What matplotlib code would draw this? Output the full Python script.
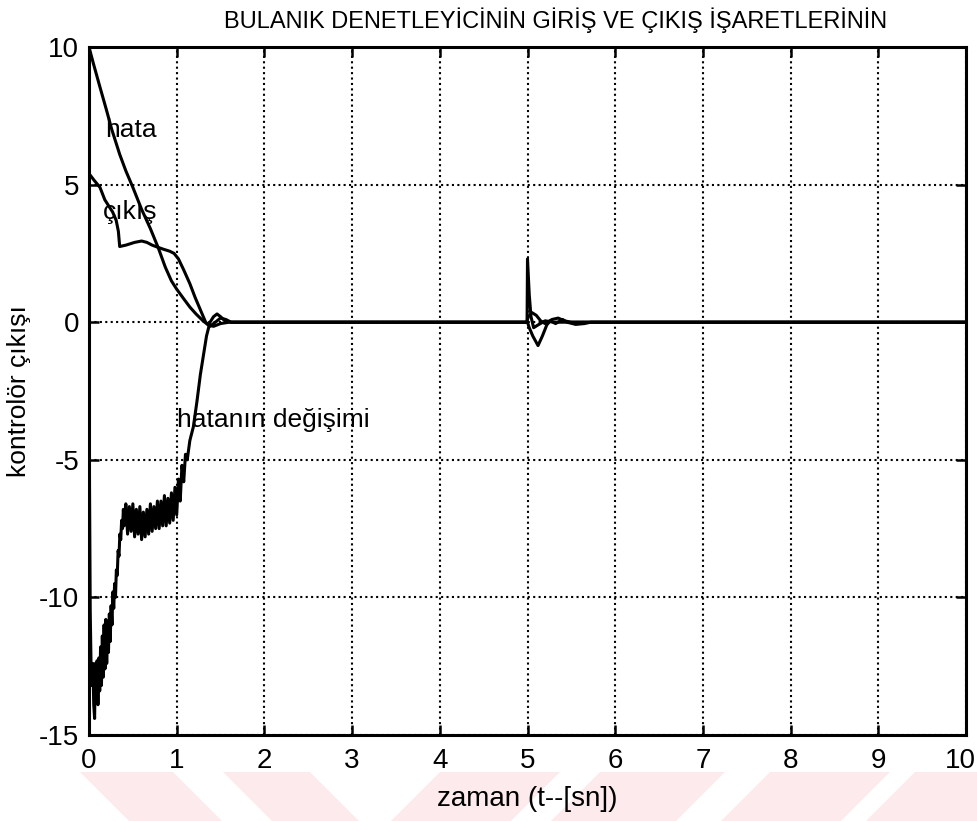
import matplotlib
matplotlib.use("Agg")
import matplotlib.pyplot as plt
from matplotlib.patches import Polygon
from matplotlib.transforms import ScaledTranslation

plt.rcParams['font.family'] = ['Liberation Sans', 'DejaVu Sans']

# --- data -------------------------------------------------------------
# hata (error)
t_hata = [0.0, 0.05, 0.12, 0.20, 0.26, 0.35, 0.42, 0.50, 0.60, 0.70, 0.79,
          0.87, 0.94, 1.00, 1.08, 1.15, 1.22, 1.30, 1.36, 1.42, 1.50, 1.60,
          4.99, 5.01, 5.05, 5.10, 5.15, 5.20, 5.28, 5.35, 5.42, 5.50, 10.0]
v_hata = [10.0, 9.4, 8.6, 7.7, 7.0, 6.1, 5.5, 4.9, 4.1, 3.4, 2.7,
          2.0, 1.5, 1.2, 0.85, 0.55, 0.3, 0.05, -0.1, -0.15, -0.05, 0.0,
          0.0, 0.2, 0.35, 0.25, 0.05, -0.05, 0.1, 0.15, 0.05, 0.0, 0.0]

# çıkış (controller output)
t_cikis = [0.0, 0.06, 0.125, 0.18, 0.27, 0.31, 0.335, 0.35, 0.42, 0.52,
           0.60, 0.66, 0.72, 0.77, 0.85, 0.92, 0.97, 1.02, 1.08, 1.15,
           1.21, 1.27, 1.33, 1.38, 1.44, 1.50, 1.56, 1.62,
           5.00, 5.02, 5.06, 5.12, 5.17, 5.22, 5.26, 5.32, 5.40, 5.45,
           5.55, 5.65, 5.72, 10.0]
v_cikis = [5.4, 5.15, 4.9, 4.45, 4.0, 3.7, 3.3, 2.75, 2.8, 2.9,
           2.95, 2.9, 2.8, 2.74, 2.65, 2.58, 2.5, 2.3, 1.9, 1.4,
           0.9, 0.45, 0.0, -0.15, 0.0, 0.15, 0.1, 0.0,
           0.0, -0.2, -0.5, -0.85, -0.5, -0.1, 0.05, -0.05, 0.1, 0.0,
           -0.08, -0.05, 0.0, 0.0]

# hatanın değişimi (change of error)
t_dhata = [0.000, 0.006, 0.014, 0.024, 0.034, 0.044, 0.054, 0.064, 0.072,
           0.082, 0.092, 0.102, 0.112, 0.122, 0.132, 0.142, 0.152, 0.162,
           0.172, 0.182, 0.192, 0.202, 0.212, 0.222, 0.232, 0.242, 0.252,
           0.262, 0.272, 0.282, 0.292, 0.302, 0.312, 0.322, 0.332, 0.342,
           0.352, 0.362, 0.372, 0.382, 0.392, 0.40,
           0.42, 0.44, 0.46, 0.48, 0.50, 0.52, 0.54, 0.56, 0.58, 0.60,
           0.62, 0.64, 0.66, 0.68, 0.70, 0.72, 0.74, 0.76, 0.78, 0.80,
           0.82, 0.84, 0.86, 0.88, 0.90, 0.92, 0.94, 0.96, 0.98, 1.00,
           1.02, 1.04, 1.06, 1.08, 1.10, 1.12, 1.15, 1.19, 1.23, 1.27,
           1.31, 1.34, 1.38, 1.42, 1.46, 1.50, 1.55, 1.62,
           4.995, 5.00, 5.02, 5.04, 5.07, 5.12, 5.20, 5.30, 10.0]
v_dhata = [-1.0, -6.0, -10.5, -12.6, -13.2, -12.4, -13.9, -14.4, -12.4,
           -13.7, -12.3, -13.9, -12.2, -13.4, -11.8, -13.2, -11.4, -12.9,
           -11.0, -12.6, -10.8, -12.4, -10.9, -12.0, -10.6, -11.6, -10.3,
           -11.0, -9.8, -10.4, -9.5, -10.0, -9.0, -9.2, -8.3, -8.5,
           -7.7, -7.9, -7.2, -7.5, -6.8, -7.4,
           -6.6, -7.7, -6.7, -7.6, -6.6, -7.8, -6.8, -7.7, -6.7, -7.9,
           -6.9, -7.8, -6.8, -7.7, -6.6, -7.6, -6.7, -7.5, -6.5, -7.5,
           -6.5, -7.4, -6.3, -7.4, -6.4, -7.3, -6.2, -7.2, -6.0, -7.0,
           -5.7, -6.5, -5.2, -5.8, -4.8, -5.0, -4.3, -3.8, -2.9, -1.9,
           -1.1, -0.5, 0.0, 0.2, 0.3, 0.2, 0.05, 0.0,
           0.0, 2.3, 1.0, 0.2, -0.2, -0.1, 0.05, 0.0, 0.0]

x_ticks = [0, 1, 2, 3, 4, 5, 6, 7, 8, 9, 10]
y_ticks = [-15, -10, -5, 0, 5, 10]

title_text = "BULANIK DENETLEYİCİNİN GİRİŞ VE ÇIKIŞ İŞARETLERİNİN"
x_label = "zaman (t--[sn])"
y_label = "kontrolör çıkışı"

# --- figure -----------------------------------------------------------
W, H = 978, 821
fig = plt.figure(figsize=(W / 100, H / 100), dpi=100)
fig.patch.set_facecolor('white')

# pale pink stripes along the bottom edge
stripe_color = (0.992, 0.918, 0.930)
stripes_px = [
    [(80, 772), (173, 772), (222, 821), (129, 821)],
    [(223, 772), (310, 772), (359, 821), (272, 821)],
    [(440, 772), (560, 772), (511, 821), (391, 821)],
    [(600, 772), (725, 772), (676, 821), (551, 821)],
    [(770, 772), (890, 772), (841, 821), (721, 821)],
    [(915, 772), (1040, 772), (991, 821), (866, 821)],
]
for poly in stripes_px:
    pts = [(x / W, 1 - y / H) for x, y in poly]
    fig.patches.append(Polygon(pts, closed=True, transform=fig.transFigure,
                               facecolor=stripe_color, edgecolor='none',
                               zorder=-5))

ax = fig.add_axes([89 / W, 1 - 735 / H, (966 - 89) / W, (735 - 47) / H])
ax.set_facecolor('none')

lw = 2.2
ax.plot(t_hata, v_hata, color='black', lw=lw, solid_joinstyle='round')
ax.plot(t_cikis, v_cikis, color='black', lw=lw, solid_joinstyle='round')
ax.plot(t_dhata, v_dhata, color='black', lw=lw, solid_joinstyle='round')

ax.set_xlim(0, 10)
ax.set_ylim(-15, 10)
ax.set_xticks(x_ticks)
ax.set_yticks(y_ticks)
ax.set_xticklabels([str(v) for v in x_ticks])
ax.set_yticklabels([str(v) for v in y_ticks])

ax.grid(True, color='black', linestyle=(0, (1, 1.6)), linewidth=1.5)
ax.tick_params(direction='in', length=7, width=1.8, labelsize=20,
               top=True, right=True)
ax.tick_params(axis='x', pad=9)
ax.tick_params(axis='y', pad=7)
for s in ax.spines.values():
    s.set_linewidth(2.2)

# keep the last x tick label inside the canvas
last = ax.get_xticklabels()[-1]
last.set_transform(last.get_transform() +
                   ScaledTranslation(-6 / 100, 0, fig.dpi_scale_trans))

ax.set_xlabel(x_label, fontsize=20, labelpad=9)
ax.set_ylabel(y_label, fontsize=19, labelpad=6)

fig.text(556 / W, 1 - 20 / H, title_text, ha='center', va='center',
         fontsize=17)

ax.text(0.18, 7.0, "hata", fontsize=19, ha='left', va='center')
ax.text(0.16, 4.0, "çıkış", fontsize=19, ha='left', va='center')
ax.text(1.0, -3.55, "hatanın değişimi", fontsize=19, ha='left', va='center')

fig.savefig("out.png", dpi=100)
